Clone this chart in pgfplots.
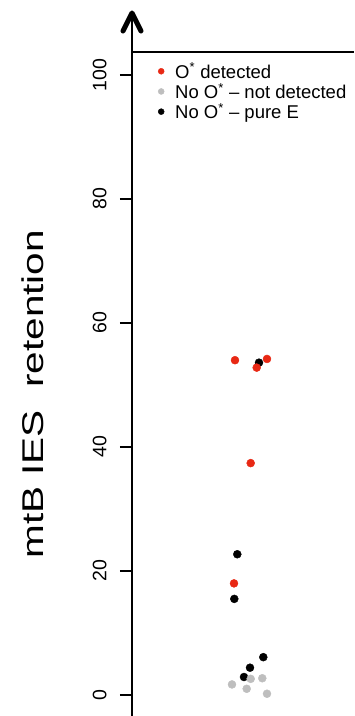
\documentclass[border=0pt]{standalone}
\usepackage{fontspec}
\setmainfont{Liberation Sans}
\usepackage{pgfplots}
\pgfplotsset{compat=1.18}
\definecolor{ptred}{RGB}{232,40,20}
\definecolor{ptgrey}{RGB}{190,190,190}
\begin{document}
\begin{tikzpicture}
\begin{axis}[
  scale only axis, width=222pt, height=703pt,
  xmin=132, xmax=354, ymin=-3.39, ymax=110,
  axis x line=none, axis y line=left,
  y axis line style={line width=2pt, -},
  ytick={0,20,40,60,80,100}, xtick=\empty,
  tick align=outside, major tick length=12pt,
  every tick/.style={black, line width=1.3pt},
  yticklabel style={rotate=90, anchor=south, font=\fontsize{19.5}{20}\selectfont},
  yticklabel shift=10pt,
  /pgf/number format/assume math mode=true,
  ylabel={\scalebox{1.35}[1]{mtB IES\ \ retention}},
  ylabel style={at={(axis cs:33,48.5)}, anchor=center, font=\fontsize{30}{32}\selectfont},
  clip=false,
  legend style={at={(axis cs:158,102.3)}, anchor=north west, draw=none, fill=none,
    font=\fontsize{18.5}{20}\selectfont, row sep=-0.5pt, inner sep=0pt,
    cells={anchor=west}, /tikz/every odd column/.append style={column sep=9pt}},
]
\addlegendimage{only marks, mark=*, mark size=3pt, ptred}
\addlegendentry{O\textsuperscript{*} detected}
\addlegendimage{only marks, mark=*, mark size=3pt, ptgrey}
\addlegendentry{No O\textsuperscript{*} – not detected}
\addlegendimage{only marks, mark=*, mark size=3pt, black}
\addlegendentry{No O\textsuperscript{*} – pure E}

\addplot[only marks, mark=*, mark size=4pt, black, forget plot] coordinates {
 (259,53.6) (237.3,22.7) (234.3,15.5) (263.3,6.1) (250,4.4) (244,2.9)
};
\addplot[only marks, mark=*, mark size=4pt, ptgrey, forget plot] coordinates {
 (250.7,2.6) (262.3,2.7) (232,1.7) (246.7,1.0) (267,0.2)
};
\addplot[only marks, mark=*, mark size=4pt, ptred, forget plot] coordinates {
 (235,54.0) (267,54.2) (256.7,52.8) (250.7,37.4) (234,18.0)
};
\draw[line width=1.3pt] (axis cs:132,103.7) -- (axis cs:354,103.7);
\draw[line width=5pt, line join=round, line cap=round]
  (rel axis cs:0,1) ++(-9pt,-18pt) -- ++(9pt,18pt) -- ++(9pt,-18pt);
\end{axis}
\pgfresetboundingbox
\path ([xshift=-132pt]current axis.south west) rectangle ([yshift=13pt]current axis.north east);
\end{tikzpicture}
\end{document}
